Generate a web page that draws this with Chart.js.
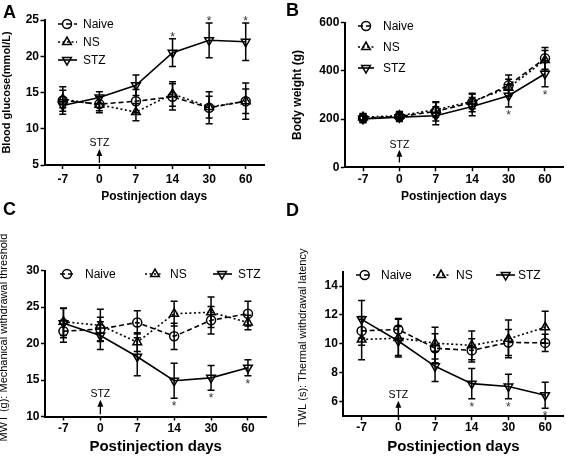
<!DOCTYPE html>
<html>
<head>
<meta charset="utf-8">
<script src="https://cdn.jsdelivr.net/npm/chart.js@4.4.1/dist/chart.umd.min.js"></script>
<style>
html, body { margin: 0; padding: 0; background: #fff; }
#wrap { position: relative; width: 567px; height: 457px; overflow: hidden; background: #fff; }
canvas { position: absolute; }
.lbl { position: absolute; font: bold 18px "Liberation Sans", Arial, sans-serif; line-height: 18px; color: #000; }
</style>
</head>
<body>
<div id="wrap">
  <canvas id="panelA" width="283" height="228" style="left:0;top:0"></canvas>
  <canvas id="panelB" width="284" height="228" style="left:283px;top:0"></canvas>
  <canvas id="panelC" width="283" height="229" style="left:0;top:228px"></canvas>
  <canvas id="panelD" width="284" height="229" style="left:283px;top:228px"></canvas>
  <div class="lbl" style="left:3px;top:3px">A</div>
  <div class="lbl" style="left:286px;top:1px">B</div>
  <div class="lbl" style="left:3px;top:200px">C</div>
  <div class="lbl" style="left:286px;top:201px">D</div>
</div>
<script>
const days = ['-7', '0', '7', '14', '30', '60'];
const groups = ['Naive', 'NS', 'STZ'];

// A: blood glucose (mmol/L)
const glucoseNaive = [13.9, 13.4, 13.8, 14.4, 12.9, 13.8];
const glucoseNaiveErr = [1.9, 0.9, 1.6, 1.8, 2.2, 2.5];
const glucoseNS = [14.1, 13.3, 12.3, 14.8, 13.0, 13.8];
const glucoseNSErr = [1.2, 1.1, 1.2, 1.7, 1.5, 1.7];
const glucoseSTZ = [13.2, 14.3, 16.0, 20.5, 22.2, 22.0];
const glucoseSTZErr = [0.8, 0.8, 1.4, 1.9, 2.4, 2.6];

// B: body weight (g)
const weightNaive = [204, 211, 232, 269, 340, 452];
const weightNaiveErr = [18, 20, 40, 38, 43, 45];
const weightNS = [208, 214, 239, 273, 330, 445];
const weightNSErr = [15, 18, 30, 30, 35, 40];
const weightSTZ = [201, 208, 214, 252, 297, 388];
const weightSTZErr = [15, 18, 37, 38, 47, 54];

// C: mechanical withdrawal threshold (g)
const mwtNaive = [21.7, 22.0, 22.9, 21.0, 23.2, 24.1];
const mwtNaiveErr = [1.5, 1.6, 1.6, 1.8, 1.9, 1.7];
const mwtNS = [23.0, 22.5, 20.2, 24.1, 24.3, 22.9];
const mwtNSErr = [1.9, 2.2, 1.3, 1.7, 2.1, 1.0];
const mwtSTZ = [22.8, 21.1, 18.2, 14.9, 15.3, 16.7];
const mwtSTZErr = [2.0, 1.9, 2.6, 2.4, 1.7, 1.1];

// D: thermal withdrawal latency (s)
const twlNaive = [10.9, 11.0, 9.7, 9.55, 10.1, 10.07];
const twlNaiveErr = [1.0, 0.75, 1.0, 0.8, 0.9, 0.6];
const twlNS = [10.3, 10.4, 10.05, 9.9, 10.35, 11.15];
const twlNSErr = [1.4, 1.3, 1.1, 1.0, 1.3, 1.1];
const twlSTZ = [11.7, 10.2, 8.45, 7.25, 7.05, 6.45];
const twlSTZErr = [1.3, 1.0, 1.05, 1.05, 0.85, 0.9];

const FONT = '"Liberation Sans", Arial, sans-serif';

const groupStyles = [
    { dash: [5, 3], pointStyle: 'circle', rotation: 0, radius: 4.5 },
    { dash: [2, 2.5], pointStyle: 'triangle', rotation: 0, radius: 5 },
    { dash: [], pointStyle: 'triangle', rotation: 180, radius: 5 },
];

const errorBarPlugin = {
    id: 'errorBars',
    afterDatasetsDraw(chart) {
        const { ctx } = chart;
        const x = chart.scales.x, y = chart.scales.y;
        ctx.save();
        ctx.strokeStyle = '#000';
        ctx.lineWidth = 1.5;
        ctx.setLineDash([]);
        chart.data.datasets.forEach((ds) => {
            ds.data.forEach((v, i) => {
                const e = ds.errorBars[i];
                const px = x.getPixelForValue(i);
                const top = y.getPixelForValue(v + e);
                const bot = y.getPixelForValue(v - e);
                ctx.beginPath();
                ctx.moveTo(px, top); ctx.lineTo(px, bot);
                ctx.moveTo(px - 3.5, top); ctx.lineTo(px + 3.5, top);
                ctx.moveTo(px - 3.5, bot); ctx.lineTo(px + 3.5, bot);
                ctx.stroke();
            });
        });
        ctx.restore();
    }
};

const decorPlugin = {
    id: 'decor',
    afterDraw(chart, args, opts) {
        const { ctx } = chart;
        const x = chart.scales.x, y = chart.scales.y;
        ctx.save();

        // legend
        opts.legend.forEach((it, i) => {
            const ds = chart.data.datasets[i];
            ctx.strokeStyle = '#000';
            ctx.lineWidth = ds.borderWidth;
            ctx.setLineDash(ds.borderDash);
            ctx.beginPath();
            ctx.moveTo(it.x0, it.y);
            ctx.lineTo(it.x1, it.y);
            ctx.stroke();
            ctx.setLineDash([]);
            ctx.fillStyle = 'rgba(0,0,0,0)';
            ctx.lineWidth = ds.pointBorderWidth;
            Chart.helpers.drawPoint(ctx, {
                pointStyle: ds.pointStyle,
                rotation: ds.pointRotation,
                radius: ds.pointRadius,
                borderWidth: ds.pointBorderWidth,
            }, it.mx, it.y);
            ctx.fillStyle = '#000';
            ctx.font = `12px ${FONT}`;
            ctx.textAlign = 'left';
            ctx.textBaseline = 'middle';
            ctx.fillText(ds.label, it.tx, it.y + 0.5);
        });

        // significance stars on the STZ series
        const st = opts.stars;
        const sds = chart.data.datasets[2];
        ctx.fillStyle = '#333';
        ctx.font = `12px ${FONT}`;
        ctx.textAlign = 'center';
        ctx.textBaseline = 'alphabetic';
        st.indices.forEach((i) => {
            const v = sds.data[i], e = sds.errorBars[i];
            const px = x.getPixelForValue(i);
            const cy = st.side === 'above'
                ? y.getPixelForValue(v + e) - 5
                : y.getPixelForValue(v - e) + 5;
            ctx.fillText('*', px, cy + 7);
        });

        // STZ injection arrow
        const ar = opts.arrow;
        const ax = x.getPixelForValue(ar.index);
        const yFrom = y.getPixelForValue(ar.from);
        const yTo = y.getPixelForValue(ar.to);
        ctx.strokeStyle = '#000';
        ctx.fillStyle = '#000';
        ctx.lineWidth = 1.3;
        ctx.beginPath();
        ctx.moveTo(ax, yFrom);
        ctx.lineTo(ax, yTo + 5);
        ctx.stroke();
        ctx.beginPath();
        ctx.moveTo(ax, yTo);
        ctx.lineTo(ax - 3, yTo + 7);
        ctx.lineTo(ax + 3, yTo + 7);
        ctx.closePath();
        ctx.fill();
        ctx.font = `10.5px ${FONT}`;
        ctx.textAlign = 'center';
        ctx.textBaseline = 'middle';
        ctx.fillText('STZ', ax, y.getPixelForValue(ar.textY));

        ctx.restore();
    }
};

function makePanel(id, cfg) {
    const canvas = document.getElementById(id);
    const W = canvas.width, H = canvas.height;
    const area = cfg.area;

    const datasets = cfg.series.map((values, i) => ({
        label: groups[i],
        data: values,
        errorBars: cfg.errors[i],
        borderColor: '#000',
        borderWidth: 1.6,
        borderDash: groupStyles[i].dash,
        pointStyle: groupStyles[i].pointStyle,
        pointRotation: groupStyles[i].rotation,
        pointRadius: groupStyles[i].radius,
        pointBorderWidth: 1.5,
        pointBorderColor: '#000',
        pointBackgroundColor: 'rgba(0,0,0,0)',
        fill: false,
        tension: 0,
    }));

    const tickFont = { family: FONT, size: 12, weight: 'bold', lineHeight: 1.2 };

    return new Chart(canvas, {
        type: 'line',
        data: { labels: days, datasets },
        options: {
            responsive: false,
            animation: false,
            devicePixelRatio: 1,
            events: [],
            layout: {
                autoPadding: false,
                padding: { left: 0, top: area.top, right: W - area.right, bottom: 0 },
            },
            plugins: {
                legend: { display: false },
                tooltip: { enabled: false },
                decor: cfg.decor,
            },
            scales: {
                x: {
                    type: 'category',
                    offset: true,
                    border: { color: '#000', width: 2 },
                    grid: { drawOnChartArea: false, drawTicks: true, tickLength: 4, tickWidth: 1.5, tickColor: '#000' },
                    ticks: { color: '#000', font: tickFont, padding: cfg.xTickPad, maxRotation: 0, autoSkip: false },
                    title: {
                        display: true,
                        text: 'Postinjection days',
                        color: '#000',
                        font: { family: FONT, size: cfg.xTitleSize, weight: 'bold', lineHeight: 1 },
                        padding: { top: 0, bottom: H - cfg.xTitleY - cfg.xTitleSize / 2 },
                    },
                    afterFit: (s) => { s.height = H - area.bottom; },
                },
                y: {
                    min: cfg.yMin,
                    max: cfg.yMax,
                    border: { color: '#000', width: 2 },
                    grid: { drawOnChartArea: false, drawTicks: true, tickLength: 4, tickWidth: 1.5, tickColor: '#000' },
                    ticks: { color: '#000', font: tickFont, padding: 1.5, stepSize: cfg.yStep },
                    afterBuildTicks: (s) => { s.ticks = cfg.yTicks.map((v) => ({ value: v })); },
                    title: {
                        display: true,
                        text: cfg.yTitle,
                        color: '#000',
                        font: { family: FONT, size: cfg.yTitleSize, weight: cfg.yTitleWeight, lineHeight: 1 },
                        padding: { top: cfg.yTitleX - cfg.yTitleSize / 2, bottom: 0 },
                    },
                    afterFit: (s) => { s.width = area.left; },
                },
            },
        },
        plugins: [errorBarPlugin, decorPlugin],
    });
}

makePanel('panelA', {
    series: [glucoseNaive, glucoseNS, glucoseSTZ],
    errors: [glucoseNaiveErr, glucoseNSErr, glucoseSTZErr],
    area: { left: 44.5, right: 264, top: 20, bottom: 165 },
    yMin: 5, yMax: 25, yStep: 5, yTicks: [5, 10, 15, 20, 25],
    yTitle: 'Blood glucose(mmol/L)', yTitleSize: 11, yTitleWeight: 'bold', yTitleX: 7,
    xTitleSize: 12, xTitleY: 197, xTickPad: 3.5,
    decor: {
        legend: [
            { x0: 58, x1: 77, mx: 67, tx: 83, y: 24 },
            { x0: 58, x1: 77, mx: 67, tx: 83, y: 42 },
            { x0: 58, x1: 77, mx: 67, tx: 83, y: 60 },
        ],
        stars: { indices: [3, 4, 5], side: 'above' },
        arrow: { index: 1, from: 5.3, to: 7.2, textY: 8.0 },
    },
});

makePanel('panelB', {
    series: [weightNaive, weightNS, weightSTZ],
    errors: [weightNaiveErr, weightNSErr, weightSTZErr],
    area: { left: 61.8, right: 280.2, top: 22.7, bottom: 167.3 },
    yMin: 0, yMax: 600, yStep: 200, yTicks: [0, 200, 400, 600],
    yTitle: 'Body weight (g)', yTitleSize: 12, yTitleWeight: 'bold', yTitleX: 15,
    xTitleSize: 12, xTitleY: 197, xTickPad: 1.5,
    decor: {
        legend: [
            { x0: 75, x1: 91, mx: 83, tx: 100, y: 26 },
            { x0: 75, x1: 91, mx: 83, tx: 100, y: 47 },
            { x0: 75, x1: 91, mx: 83, tx: 100, y: 68 },
        ],
        stars: { indices: [4, 5], side: 'below' },
        arrow: { index: 1, from: 20, to: 73, textY: 94 },
    },
});

// leading spaces nudge the rotated titles of C and D upward, as in the figure
makePanel('panelC', {
    series: [mwtNaive, mwtNS, mwtSTZ],
    errors: [mwtNaiveErr, mwtNSErr, mwtSTZErr],
    area: { left: 45, right: 266.4, top: 42.7, bottom: 188.5 },
    yMin: 10, yMax: 30, yStep: 5, yTicks: [10, 15, 20, 25, 30],
    yTitle: '    MWT (g): Mechanical withdrawal threshold', yTitleSize: 11, yTitleWeight: 'normal', yTitleX: 4,
    xTitleSize: 15, xTitleY: 219, xTickPad: 0.5,
    decor: {
        legend: [
            { x0: 60, x1: 76, mx: 67, tx: 85, y: 46 },
            { x0: 145, x1: 162, mx: 155, tx: 170, y: 46 },
            { x0: 213, x1: 232, mx: 222, tx: 238, y: 46 },
        ],
        stars: { indices: [3, 4, 5], side: 'below' },
        arrow: { index: 1, from: 10.3, to: 12.3, textY: 13.1 },
    },
});

makePanel('panelD', {
    series: [twlNaive, twlNS, twlSTZ],
    errors: [twlNaiveErr, twlNSErr, twlSTZErr],
    area: { left: 60.3, right: 280.5, top: 43.6, bottom: 188.2 },
    yMin: 5, yMax: 15, yStep: 2, yTicks: [6, 8, 10, 12, 14],
    yTitle: '    TWL (s): Thermal withdrawal latency', yTitleSize: 11, yTitleWeight: 'normal', yTitleX: 20,
    xTitleSize: 15, xTitleY: 219, xTickPad: 0.5,
    decor: {
        legend: [
            { x0: 73, x1: 89, mx: 81.7, tx: 98, y: 47 },
            { x0: 150, x1: 167, mx: 158, tx: 173, y: 47 },
            { x0: 213, x1: 232, mx: 222.7, tx: 235, y: 47 },
        ],
        stars: { indices: [3, 4, 5], side: 'below' },
        arrow: { index: 1, from: 5.08, to: 6.06, textY: 6.47 },
    },
});
</script>
</body>
</html>
